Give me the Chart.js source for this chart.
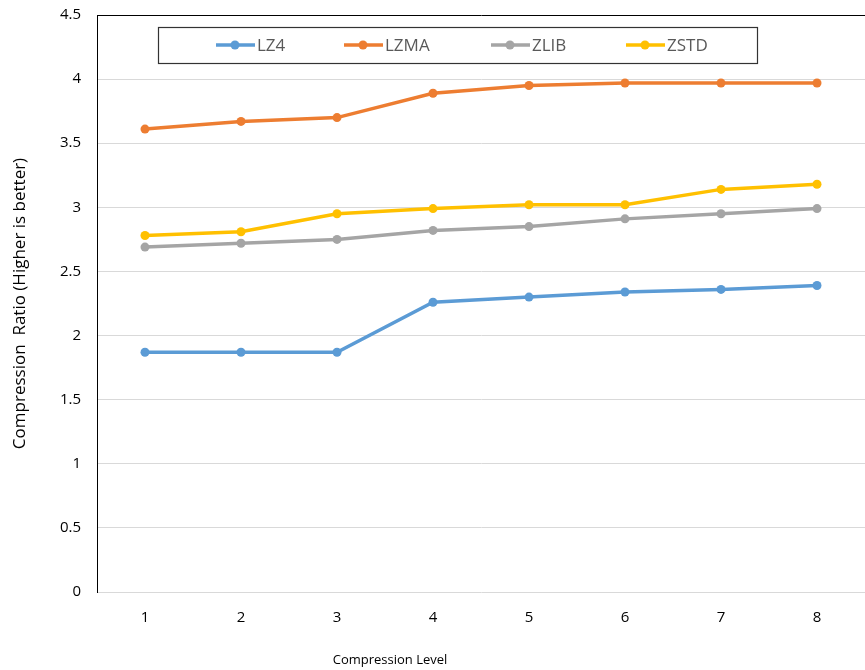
<!DOCTYPE html>
<html>
<head>
<meta charset="utf-8">
<script src="https://cdn.jsdelivr.net/npm/chart.js@4/dist/chart.umd.min.js"></script>
<style>
  html, body { margin: 0; padding: 0; background: #ffffff; }
  #wrap { width: 865px; height: 670px; position: relative; }
</style>
</head>
<body>
<div id="wrap"><canvas id="chart" width="865" height="670"></canvas></div>
<script>
// Compression levels and ratios per algorithm
const levels = ['1', '2', '3', '4', '5', '6', '7', '8'];
const lz4  = [1.87, 1.87, 1.87, 2.26, 2.30, 2.34, 2.36, 2.39];
const lzma = [3.61, 3.67, 3.70, 3.89, 3.95, 3.97, 3.97, 3.97];
const zlib = [2.69, 2.72, 2.75, 2.82, 2.85, 2.91, 2.95, 2.99];
const zstd = [2.78, 2.81, 2.95, 2.99, 3.02, 3.02, 3.14, 3.18];
const seriesNames = ['LZ4', 'LZMA', 'ZLIB', 'ZSTD'];
const seriesColors = ['#5B9BD5', '#ED7D31', '#A5A5A5', '#FFC000'];
const yTitle = 'Compression  Ratio (Higher is better)';
const xTitle = 'Compression Level';

const FONT = '"Open Sans", "DejaVu Sans", sans-serif';
const LEGEND_FONT = '"Liberation Sans Narrow", "Open Sans", sans-serif';

function makeSet(i, data) {
  return {
    label: seriesNames[i],
    data: data,
    borderColor: seriesColors[i],
    backgroundColor: seriesColors[i],
    borderWidth: 3.5,
    pointRadius: 4.5,
    pointBorderWidth: 0,
    pointHoverRadius: 4.5,
    tension: 0
  };
}

// Boxed legend drawn inside the plot area, plus the x-axis title
const boxedLegend = {
  id: 'boxedLegend',
  afterDraw(chart) {
    const ctx = chart.ctx;
    ctx.save();
    ctx.strokeStyle = '#333333';
    ctx.lineWidth = 1.2;
    ctx.fillStyle = '#ffffff';
    ctx.fillRect(158, 27, 599, 36);
    ctx.strokeRect(158.5, 27.5, 599, 36);
    const itemX = [216, 344, 491, 626];
    const midY = 45;
    chart.data.datasets.forEach((ds, i) => {
      const x0 = itemX[i];
      ctx.strokeStyle = ds.borderColor;
      ctx.lineWidth = 3.5;
      ctx.beginPath();
      ctx.moveTo(x0, midY);
      ctx.lineTo(x0 + 39, midY);
      ctx.stroke();
      ctx.fillStyle = ds.borderColor;
      ctx.beginPath();
      ctx.arc(x0 + 19, midY, 4.5, 0, Math.PI * 2);
      ctx.fill();
      ctx.fillStyle = '#595959';
      ctx.font = '17px ' + LEGEND_FONT;
      ctx.textBaseline = 'middle';
      ctx.textAlign = 'left';
      ctx.fillText(ds.label, x0 + 41, midY + 1);
    });
    ctx.fillStyle = '#000000';
    ctx.font = '13px ' + FONT;
    ctx.textAlign = 'center';
    ctx.textBaseline = 'middle';
    ctx.fillText(xTitle, 390, 660);
    ctx.restore();
  }
};

new Chart(document.getElementById('chart'), {
  type: 'line',
  data: {
    labels: levels,
    datasets: [makeSet(0, lz4), makeSet(1, lzma), makeSet(2, zlib), makeSet(3, zstd)]
  },
  options: {
    responsive: false,
    animation: false,
    layout: { autoPadding: false, padding: { top: 15, right: 0, left: 0, bottom: 0 } },
    plugins: {
      legend: { display: false },
      tooltip: { enabled: false }
    },
    scales: {
      x: {
        offset: true,
        grid: { display: false, drawTicks: false },
        border: { display: false },
        ticks: { color: '#000000', font: { family: FONT, size: 15 }, padding: 17, maxRotation: 0 },
        afterFit(scale) {
          scale.height = 78;
          scale.paddingLeft = 0;
          scale.paddingRight = 0;
        }
      },
      y: {
        min: 0,
        max: 4.5,
        ticks: {
          stepSize: 0.5,
          color: '#000000',
          font: { family: FONT, size: 15 },
          padding: 16,
          callback: (v) => String(v)
        },
        grid: {
          drawTicks: false,
          lineWidth: 1,
          color: (c) => (c.tick && c.tick.value === 4.5) ? '#000000' : '#D9D9D9'
        },
        border: { display: true, color: '#000000', width: 1 },
        title: {
          display: true,
          text: yTitle,
          color: '#000000',
          font: { family: FONT, size: 17, weight: 'normal' },
          padding: { top: 10, bottom: 0 }
        },
        afterFit(scale) {
          scale.width = 97;
          scale.paddingTop = 0;
          scale.paddingBottom = 0;
        }
      }
    }
  },
  plugins: [boxedLegend]
});
</script>
</body>
</html>
